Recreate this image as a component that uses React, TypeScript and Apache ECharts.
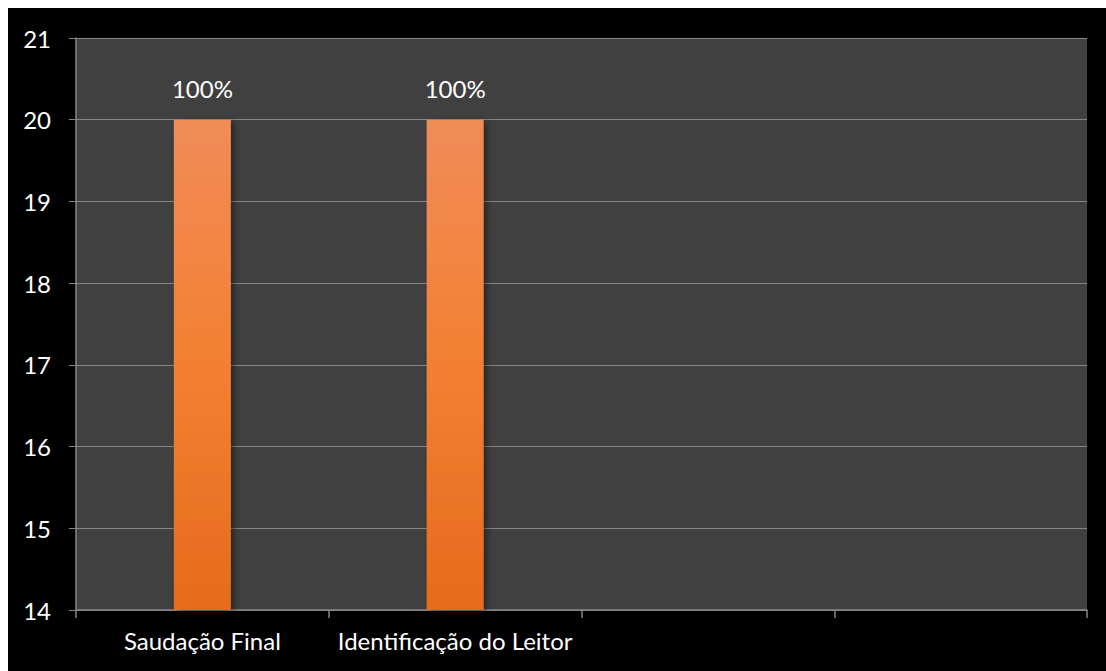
import React, { useEffect, useRef } from "react";
import * as echarts from "echarts";

const categories = ["Saudação Final", "Identificação do Leitor", "", ""];
const values: (number | null)[] = [20, 20, null, null];
const valueLabels = ["100%", "100%", "", ""];
const yMin = 14;
const yMax = 21;

export default function App() {
  const ref = useRef<HTMLDivElement>(null);
  useEffect(() => {
    if (!ref.current) return;
    const chart = echarts.init(ref.current, null, { renderer: "svg" });
    chart.setOption({
      animation: false,
      backgroundColor: "#000000",
      textStyle: { fontFamily: "Lato" },
      grid: {
        left: 68,
        right: 19,
        top: 30,
        bottom: 61,
        show: true,
        backgroundColor: "#404040",
        borderWidth: 0,
      },
      xAxis: {
        type: "category",
        data: categories,
        axisLine: { lineStyle: { color: "#868686", width: 1.5 } },
        axisTick: { show: true, interval: 0, length: 8, alignWithLabel: false, lineStyle: { color: "#868686", width: 1.5 } },
        axisLabel: { color: "#ffffff", fontSize: 24, margin: 18, interval: 0, hideOverlap: false, fontFamily: "Lato" },
        splitLine: { show: false },
      },
      yAxis: {
        type: "value",
        min: yMin,
        max: yMax,
        interval: 1,
        axisLine: { show: true, lineStyle: { color: "#868686", width: 1.5 } },
        axisTick: { show: true, length: 7, lineStyle: { color: "#868686" } },
        axisLabel: { color: "#ffffff", fontSize: 24, margin: 25, fontFamily: "Lato" },
        splitLine: { show: true, lineStyle: { color: "#868686", width: 1 } },
      },
      series: [
        {
          type: "bar",
          data: values,
          barWidth: 57,
          itemStyle: {
            color: new echarts.graphic.LinearGradient(0, 0, 0, 1, [
              { offset: 0, color: "#F08C58" },
              { offset: 0.5, color: "#F38032" },
              { offset: 1, color: "#E46C1A" },
            ]),
            shadowColor: "rgba(0,0,0,0.45)",
            shadowBlur: 6,
            shadowOffsetX: 3,
            shadowOffsetY: 2,
          },
          label: {
            show: true,
            position: "top",
            distance: 19,
            color: "#ffffff",
            fontSize: 24,
            fontFamily: "Lato",
            formatter: (p: any) => valueLabels[p.dataIndex],
          },
        },
      ],
    });
    return () => chart.dispose();
  }, []);
  return (
    <div
      ref={ref}
      style={{ position: "absolute", left: 8, top: 8, width: 1098, height: 663 }}
    />
  );
}
